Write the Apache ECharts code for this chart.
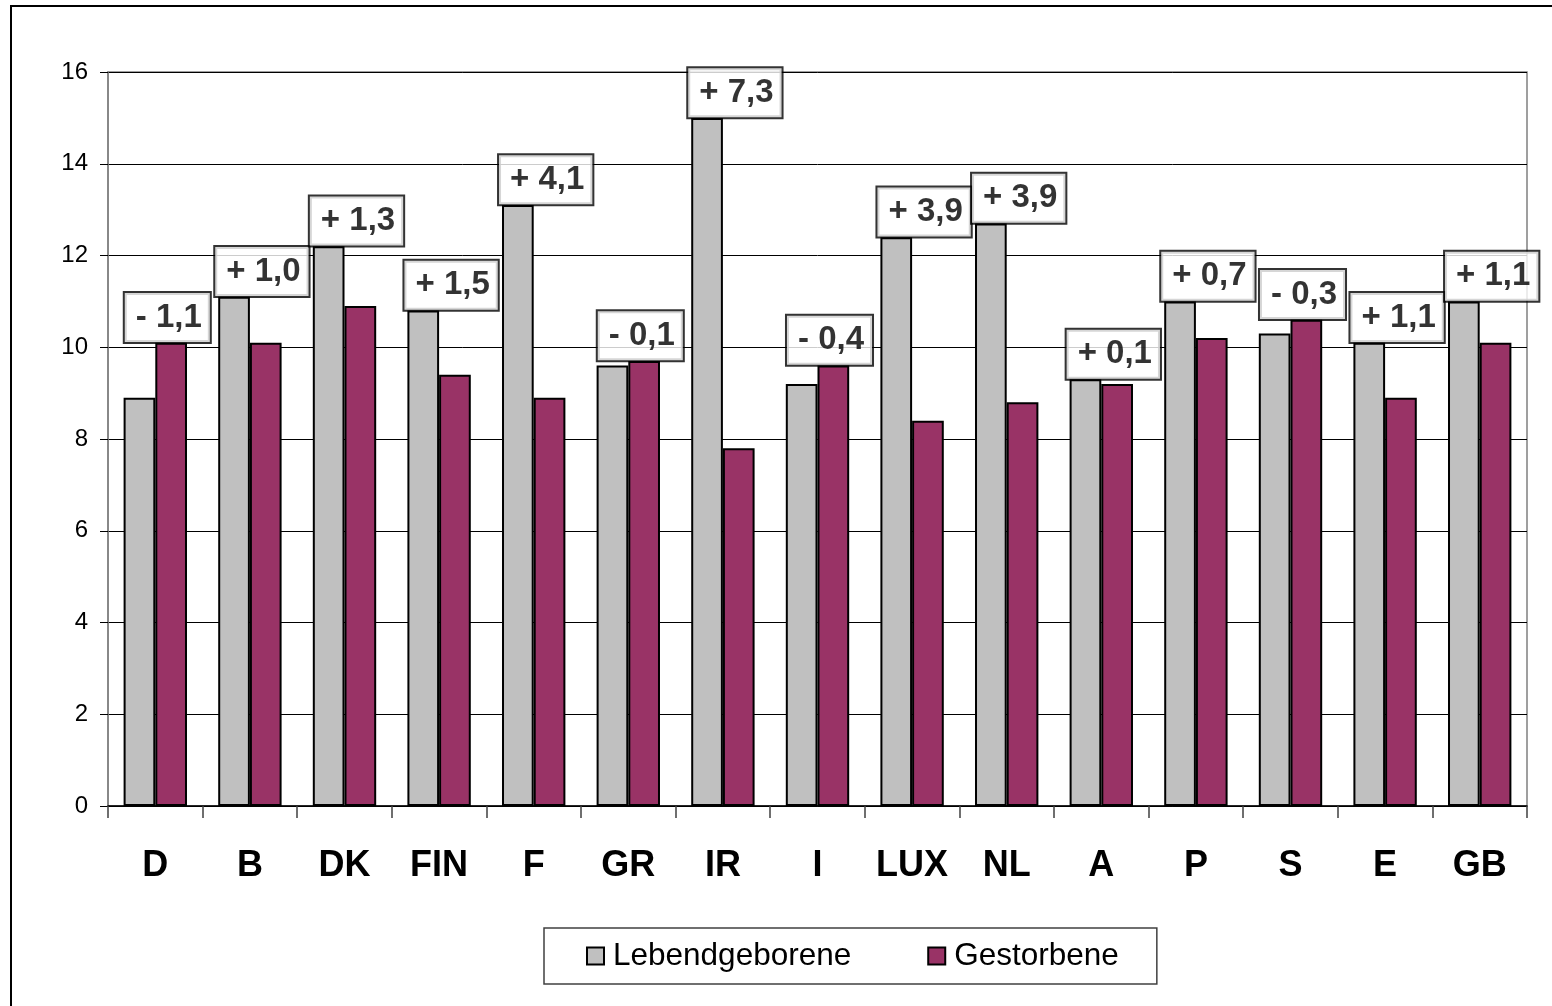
<!DOCTYPE html>
<html>
<head>
<meta charset="utf-8">
<script src="https://cdn.jsdelivr.net/npm/echarts@6/dist/echarts.min.js"></script>
<style>
html,body{margin:0;padding:0;background:#fff;}
#c{width:1552px;height:1006px;}
</style>
</head>
<body>
<div id="c"></div>
<script>
const categories = ['D','B','DK','FIN','F','GR','IR','I','LUX','NL','A','P','S','E','GB'];
const lebendgeborene = [8.9, 11.1, 12.2, 10.8, 13.1, 9.6, 15.0, 9.2, 12.4, 12.7, 9.3, 11.0, 10.3, 10.1, 11.0];
const gestorbene     = [10.1, 10.1, 10.9, 9.4, 8.9, 9.7, 7.8, 9.6, 8.4, 8.8, 9.2, 10.2, 10.6, 8.9, 10.1];
const diffLabels = ['- 1,1','+ 1,0','+ 1,3','+ 1,5','+ 4,1','- 0,1','+ 7,3','- 0,4','+ 3,9','+ 3,9','+ 0,1','+ 0,7','- 0,3','+ 1,1','+ 1,1'];
const yTicks = [0, 2, 4, 6, 8, 10, 12, 14, 16];

const labelPoints = categories.map((c, i) => [i, Math.max(lebendgeborene[i], gestorbene[i]) + 0.55, diffLabels[i]]);

const chart = echarts.init(document.getElementById('c'), null, {renderer: 'canvas'});
const FONT = 'Liberation Sans, Arial, sans-serif';
chart.setOption({
  animation: false,
  backgroundColor: '#fff',
  graphic: [{
    type: 'rect', z: 100, silent: true,
    shape: {x: 11, y: 6, width: 1600, height: 1100},
    style: {fill: 'none', stroke: '#000', lineWidth: 2}
  }],
  grid: {left: 108, top: 72, right: 25, bottom: 200, show: true, borderColor: '#808080', borderWidth: 1.5, backgroundColor: '#fff'},
  legend: {
    data: ['Lebendgeborene', 'Gestorbene'],
    left: 544, top: 928,
    orient: 'horizontal',
    itemWidth: 17, itemHeight: 17, itemGap: 76,
    padding: [12, 38, 12, 42],
    borderColor: '#404040', borderWidth: 1.5,
    backgroundColor: '#fff',
    icon: 'rect',
    itemStyle: {borderColor: '#000', borderWidth: 2},
    textStyle: {fontFamily: FONT, fontSize: 31.5, color: '#000', padding: [0, 0, 0, 4]}
  },
  xAxis: {
    type: 'category',
    data: categories,
    axisLine: {lineStyle: {color: '#000', width: 1.5}},
    axisTick: {show: true, interval: 0, length: 12, lineStyle: {color: '#404040', width: 1.5}},
    axisLabel: {interval: 0, fontFamily: FONT, fontSize: 36, fontWeight: 'bold', color: '#000', margin: 42},
    splitLine: {show: false}
  },
  yAxis: {
    type: 'value',
    min: yTicks[0], max: yTicks[yTicks.length - 1], interval: 2,
    axisLine: {show: true, lineStyle: {color: '#808080', width: 1.5}},
    axisTick: {show: true, length: 8, lineStyle: {color: '#000', width: 1}},
    axisLabel: {fontFamily: FONT, fontSize: 24, color: '#000', margin: 20},
    splitLine: {show: true, lineStyle: {color: '#000', width: 1}}
  },
  series: [
    {
      name: 'Lebendgeborene', type: 'bar', data: lebendgeborene,
      barGap: '0%', barCategoryGap: '33%',
      itemStyle: {color: '#C0C0C0', borderColor: '#000', borderWidth: 2}
    },
    {
      name: 'Gestorbene', type: 'bar', data: gestorbene,
      barGap: '0%', barCategoryGap: '33%',
      itemStyle: {color: '#993366', borderColor: '#000', borderWidth: 2}
    },
    {
      name: 'diff', type: 'scatter', data: labelPoints,
      symbolSize: 0, z: 10,
      label: {
        show: true, position: 'inside', offset: [12, 0],
        formatter: p => p.data[2],
        fontFamily: FONT, fontSize: 33, fontWeight: 'bold', color: '#000',
        textBorderWidth: 0, textShadowBlur: 0,
        backgroundColor: '#fff', borderColor: '#000', borderWidth: 2,
        padding: [8, 8, 7, 11], lineHeight: 34
      }
    }
  ]
});
</script>
</body>
</html>
